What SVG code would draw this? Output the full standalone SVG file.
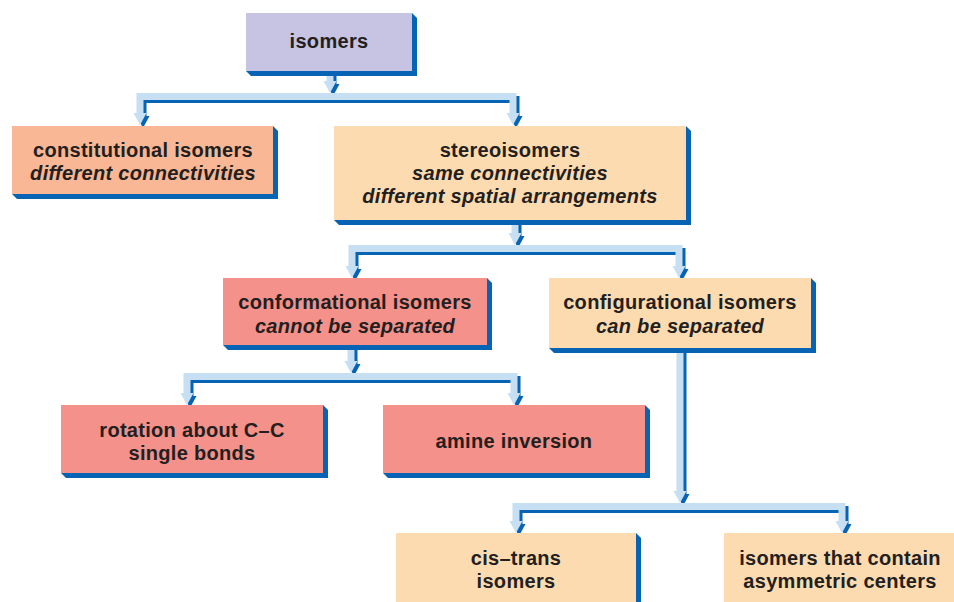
<svg xmlns="http://www.w3.org/2000/svg" xmlns:xlink="http://www.w3.org/1999/xlink" width="954" height="602" viewBox="0 0 954 602">
  <style>
    .shadow { fill: #0763b3; }
    .lav { fill: #c7c3e3; }
    .orange { fill: #f9b795; }
    .peach { fill: #fddbb1; }
    .red { fill: #f4918a; }
    text { font-family: "Liberation Sans", Arial, sans-serif; font-weight: 700; font-size: 20px; letter-spacing: 0.3px; fill: #231f20; text-anchor: middle; }
    .it { font-style: italic; }
    .pipe { color: #c6dff3; }
    .pipe-shade { color: #0763b3; }
  </style>
  <defs>
    <!-- connector shapes drawn in currentColor: once as a dark offset shade, once as the light pipe -->
    <g id="c1">
      <path d="M330 71 V82" fill="none" stroke="currentColor" stroke-width="7"/>
      <polygon points="323.5,81 336.5,81 330,93" fill="currentColor"/>
      <path d="M140 114 V96.5 H513 V114" fill="none" stroke="currentColor" stroke-width="7" stroke-linejoin="miter"/>
      <polygon points="133.5,113 146.5,113 140,125" fill="currentColor"/>
      <polygon points="506.5,113 519.5,113 513,125" fill="currentColor"/>
    </g>
    <g id="c2">
      <path d="M515 220 V234" fill="none" stroke="currentColor" stroke-width="7"/>
      <polygon points="508.5,233 521.5,233 515,245" fill="currentColor"/>
      <path d="M352 267 V248.5 H679 V267" fill="none" stroke="currentColor" stroke-width="7" stroke-linejoin="miter"/>
      <polygon points="345.5,266 358.5,266 352,278" fill="currentColor"/>
      <polygon points="672.5,266 685.5,266 679,278" fill="currentColor"/>
    </g>
    <g id="c3">
      <path d="M351 345 V362" fill="none" stroke="currentColor" stroke-width="7"/>
      <polygon points="344.5,361 357.5,361 351,373" fill="currentColor"/>
      <path d="M187 394 V376.5 H514 V394" fill="none" stroke="currentColor" stroke-width="7" stroke-linejoin="miter"/>
      <polygon points="180.5,393 193.5,393 187,405" fill="currentColor"/>
      <polygon points="507.5,393 520.5,393 514,405" fill="currentColor"/>
    </g>
    <g id="c4">
      <path d="M680 348 V492" fill="none" stroke="currentColor" stroke-width="7"/>
      <polygon points="673.5,491 686.5,491 680,503" fill="currentColor"/>
      <path d="M516 522 V506.5 H842 V522" fill="none" stroke="currentColor" stroke-width="7" stroke-linejoin="miter"/>
      <polygon points="509.5,521 522.5,521 516,533" fill="currentColor"/>
      <polygon points="835.5,521 848.5,521 842,533" fill="currentColor"/>
    </g>
  </defs>

  <g id="connectors">
    <use xlink:href="#c1" class="pipe-shade" transform="translate(3,3)"/>
    <use xlink:href="#c1" class="pipe"/>
    <use xlink:href="#c2" class="pipe-shade" transform="translate(3,3)"/>
    <use xlink:href="#c2" class="pipe"/>
    <use xlink:href="#c3" class="pipe-shade" transform="translate(3,3)"/>
    <use xlink:href="#c3" class="pipe"/>
    <use xlink:href="#c4" class="pipe-shade" transform="translate(3,3)"/>
    <use xlink:href="#c4" class="pipe"/>
  </g>

  <g id="isomers">
    <polygon class="shadow" points="412,13 417,18 417,76 251,76 246,71"/>
    <rect class="lav" x="246" y="13" width="166" height="58"/>
    <text x="329" y="48">isomers</text>
  </g>

  <g id="constitutional">
    <polygon class="shadow" points="273,126 278,131 278,199 17,199 12,194"/>
    <rect class="orange" x="12" y="126" width="261" height="68"/>
    <text x="143" y="157">constitutional isomers</text>
    <text x="143" y="180" class="it">different connectivities</text>
  </g>

  <g id="stereoisomers">
    <polygon class="shadow" points="686,126 691,131 691,225 339,225 334,220"/>
    <rect class="peach" x="334" y="126" width="352" height="94"/>
    <text x="510" y="157">stereoisomers</text>
    <text x="510" y="180" class="it">same connectivities</text>
    <text x="510" y="203" class="it">different spatial arrangements</text>
  </g>

  <g id="conformational">
    <polygon class="shadow" points="487,278 492,283 492,350 228,350 223,345"/>
    <rect class="red" x="223" y="278" width="264" height="67"/>
    <text x="355" y="309">conformational isomers</text>
    <text x="355" y="333" class="it">cannot be separated</text>
  </g>

  <g id="configurational">
    <polygon class="shadow" points="811,278 816,283 816,353 554,353 549,348"/>
    <rect class="peach" x="549" y="278" width="262" height="70"/>
    <text x="680" y="309">configurational isomers</text>
    <text x="680" y="333" class="it">can be separated</text>
  </g>

  <g id="rotation">
    <polygon class="shadow" points="323,405 328,410 328,478 66,478 61,473"/>
    <rect class="red" x="61" y="405" width="262" height="68"/>
    <text x="192" y="437">rotation about C–C</text>
    <text x="192" y="460">single bonds</text>
  </g>

  <g id="amine">
    <polygon class="shadow" points="645,405 650,410 650,478 388,478 383,473"/>
    <rect class="red" x="383" y="405" width="262" height="68"/>
    <text x="514" y="448">amine inversion</text>
  </g>

  <g id="cistrans">
    <polygon class="shadow" points="636,533 641,538 641,612 401,612 396,607"/>
    <rect class="peach" x="396" y="533" width="240" height="74"/>
    <text x="516" y="565">cis–trans</text>
    <text x="516" y="588">isomers</text>
  </g>

  <g id="asymmetric">
    <polygon class="shadow" points="954,533 959,538 959,612 729,612 724,607"/>
    <rect class="peach" x="724" y="533" width="235" height="74"/>
    <text x="840" y="565">isomers that contain</text>
    <text x="840" y="588">asymmetric centers</text>
  </g>
</svg>
